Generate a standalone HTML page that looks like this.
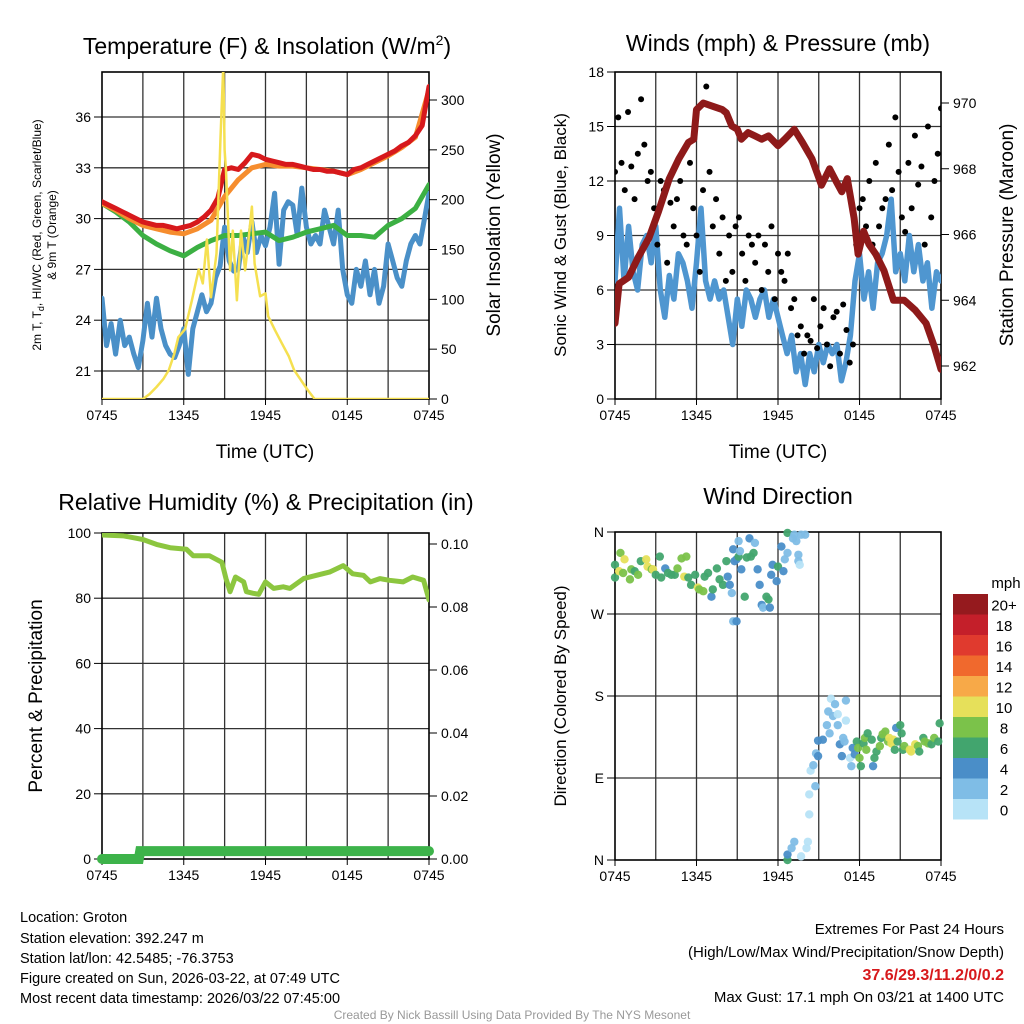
<!DOCTYPE html>
<html><head><meta charset="utf-8"><style>
html,body{margin:0;padding:0;background:#fff;}
svg{display:block;font-family:"Liberation Sans",Arial,sans-serif;}
</style></head><body>
<svg id="s" width="1024" height="1024" viewBox="0 0 1024 1024">
<text x="267" y="54" font-size="23" text-anchor="middle">Temperature (F) &amp; Insolation (W/m<tspan dy="-9" font-size="14">2</tspan><tspan dy="9">)</tspan></text>
<text x="778" y="51" font-size="23" text-anchor="middle">Winds (mph) &amp; Pressure (mb)</text>
<text x="266" y="510" font-size="23" text-anchor="middle">Relative Humidity (%) &amp; Precipitation (in)</text>
<text x="778" y="504" font-size="23" text-anchor="middle">Wind Direction</text>
<text x="265" y="458" font-size="19" text-anchor="middle">Time (UTC)</text>
<text x="778" y="458" font-size="19" text-anchor="middle">Time (UTC)</text>
<text transform="translate(41,235) rotate(-90)" font-size="12" text-anchor="middle">2m T, T<tspan font-size="9" dy="3">d</tspan><tspan dy="-3">, HI/WC (Red, Green, Scarlet/Blue)</tspan></text>
<text transform="translate(56,235) rotate(-90)" font-size="12" text-anchor="middle">&amp; 9m T (Orange)</text>
<text transform="translate(500,235) rotate(-90)" font-size="19" text-anchor="middle">Solar Insolation (Yellow)</text>
<text transform="translate(566,235) rotate(-90)" font-size="17" text-anchor="middle">Sonic Wind &amp; Gust (Blue, Black)</text>
<text transform="translate(1013,235) rotate(-90)" font-size="19" text-anchor="middle">Station Pressure (Maroon)</text>
<text transform="translate(42,696) rotate(-90)" font-size="19" text-anchor="middle">Percent &amp; Precipitation</text>
<text transform="translate(566,696) rotate(-90)" font-size="17" text-anchor="middle">Direction (Colored By Speed)</text>
<g font-size="14.5">
<text x="20" y="922">Location: Groton</text>
<text x="20" y="943">Station elevation: 392.247 m</text>
<text x="20" y="963">Station lat/lon: 42.5485; -76.3753</text>
<text x="20" y="983">Figure created on Sun, 2026-03-22, at 07:49 UTC</text>
<text x="20" y="1003">Most recent data timestamp: 2026/03/22 07:45:00</text>
</g>
<g font-size="15" text-anchor="end">
<text x="1004" y="934">Extremes For Past 24 Hours</text>
<text x="1004" y="957">(High/Low/Max Wind/Precipitation/Snow Depth)</text>
<text x="1004" y="980" fill="#d7191c" font-weight="bold" font-size="16">37.6/29.3/11.2/0/0.2</text>
<text x="1004" y="1002">Max Gust: 17.1 mph On 03/21 at 1400 UTC</text>
</g>
<text x="512" y="1019" font-size="12" fill="#999" text-anchor="middle">Created By Nick Bassill Using Data Provided By The NYS Mesonet</text>
</svg>
<script>
// ---- Temperature panel data ----
const tRed = [31.0,30.8,30.6,30.4,30.2,30.0,29.8,29.7,29.6,29.6,29.5,29.4,29.5,29.6,29.8,30.1,30.5,31.2,32.9,33.0,32.9,33.3,33.8,33.7,33.5,33.4,33.3,33.2,33.2,33.1,33.0,32.9,32.9,32.8,32.8,32.7,32.6,32.9,33.0,33.2,33.4,33.6,33.8,34.0,34.3,34.5,34.9,35.5,37.8];
const tOrange = [30.9,30.5,30.0,29.6,29.4,29.2,29.1,29.4,29.9,31.3,32.3,33.0,33.2,33.1,33.1,33.0,32.9,32.8,32.6,32.9,33.3,33.7,34.2,34.8,37.6];
const tGreen = [30.9,30.4,29.8,29.0,28.5,28.1,27.8,28.3,28.7,29.0,29.0,29.1,29.2,28.7,28.9,29.2,29.4,29.6,29.0,29.0,28.9,29.6,30.0,30.6,32.0];
const tBlue = [25.3,22.5,23.8,22.0,24.0,22.5,23.0,22.0,21.2,22.8,25.0,23.0,25.3,23.5,22.5,22.0,21.8,22.5,23.5,20.8,23.5,24.5,25.5,24.5,25.0,26.5,27.2,29.5,27.5,26.9,27.0,29.0,28.0,29.8,28.0,29.0,28.4,29.5,31.5,27.3,30.5,31.0,30.8,29.0,31.8,29.5,28.5,29.0,28.5,30.5,29.5,28.5,30.5,27.0,25.5,25.0,27.0,26.0,27.5,25.5,27.0,25.0,26.0,28.5,27.5,26.5,26.0,27.5,28.5,29.0,28.5,30.0,31.5];
const solarHours = [0,3.0,3.5,4.0,4.5,4.9,5.3,5.6,6.1,6.6,7.1,7.4,7.7,8.0,8.4,8.7,8.9,9.0,9.1,9.4,9.6,9.9,10.2,10.5,10.7,11.0,11.2,11.6,12.0,12.2,12.7,13.2,13.7,14.1,14.6,15.1,15.6,24];
const solarValues = [0,0,5,12,20,29,45,62,70,99,130,116,160,102,146,262,335,250,229,129,169,99,169,129,153,193,136,103,106,83,69,56,43,29,19,9,0,0];
const tempTicks = [21,24,27,30,33,36];
const solarTicks = [0,50,100,150,200,250,300];
const timeLabels = ["0745","1345","1945","0145","0745"];
// ---- Wind panel data ----
const windSonic = [6.5,10.5,6.5,9.5,7.0,6.0,8.5,9.0,7.5,9.5,6.0,4.5,6.8,5.5,8.0,7.5,6.5,5.0,7.5,10.5,6.5,5.5,6.5,5.5,6.0,4.5,3.0,5.5,4.0,6.0,5.5,4.5,5.5,6.0,4.5,5.5,4.5,3.5,2.5,3.5,1.5,2.5,0.8,2.5,1.5,3.0,2.0,3.0,2.5,3.0,1.0,2.0,3.5,6.5,8.0,5.5,7.0,5.0,7.5,8.0,9.0,11.0,7.0,8.0,6.5,9.0,7.0,8.5,6.5,7.5,5.0,7.0,6.5];
const windGust = [12.5,15.5,13,11.5,15.8,12.8,11,13.5,16.5,14,12,12.5,10.5,8.5,12,11.5,7.5,10.8,9.5,11,12,9,8.5,13,10.5,9,7,11.5,17.2,12.5,9.5,11,8,10,6.5,9,7,9.5,10,8,6.5,9,8.5,7.5,9,6,8.5,7,9.5,5.5,8,7,6.5,8,5,5.5,3.5,4,2.5,3.5,3.2,5.5,2.8,4,5,3,1.8,4.5,4.8,2.5,5.2,3.8,2,3,8.5,10.5,11,9.5,12,8.5,13,9.5,10.5,11,14,11.5,15.5,12.5,10,9.2,13,10.5,14.5,11.8,12.8,8.5,15,10,12,13.5,16];
const presHours = [0,0.3,1.0,1.7,2.5,3.2,4.0,4.7,5.4,5.8,6.0,6.5,7.2,7.9,8.2,8.6,9.0,9.3,9.8,10.3,10.8,11.3,12.0,12.5,13.2,13.8,14.5,15.2,15.8,16.3,16.7,17.1,17.6,17.9,18.3,18.7,19.2,19.8,20.5,21.3,22.1,22.9,23.5,24];
const presValues = [963.3,964.5,964.7,965.3,965.9,966.7,967.7,968.3,968.8,968.9,969.8,970.0,969.9,969.8,969.7,969.3,969.2,968.9,969.1,969.0,968.9,969.0,968.7,968.9,969.2,968.8,968.3,967.5,968.0,967.6,967.3,967.7,966.5,965.4,966.1,965.7,965.4,964.9,964.0,964.0,963.7,963.3,962.6,961.9];
const windTicks = [0,3,6,9,12,15,18];
const presTicks = [962,964,966,968,970];
// ---- RH panel data ----
const rhHours = [0,1.6,3,4,5,6.2,6.7,7.9,8.8,9.1,9.4,9.8,10.4,10.6,11.1,11.5,12,12.6,13.3,13.8,14.8,15.7,16.7,17.7,18.4,19.2,19.7,20.4,21.1,22.1,22.8,23.6,24];
const rhValues = [99.4,99.1,98,96.5,95.5,95,93,93,91,86,82,86.5,85,82,81.5,81.2,85,83,83.5,83,86,87,88,90,87.5,87,85,86,85.5,85,86.5,85.5,79.5];
const precipHours = [0,2.7,2.8,24];
const precipValues = [0,0,0.0025,0.0025];
const rhTicks = [0,20,40,60,80,100];
const precipTicks = [0,0.02,0.04,0.06,0.08,0.10];
// ---- Wind direction data ----
const dirHours = [0.0,0.0,0.4,0.3,0.7,0.6,1.1,1.2,1.45,1.7,1.9,2.3,2.4,2.7,2.8,3.0,3.3,3.4,3.7,3.9,4.15,4.4,4.6,4.9,5.1,5.25,5.4,5.6,5.9,6.1,6.2,6.5,6.6,6.85,7.1,7.2,7.5,7.7,7.95,8.2,8.3,8.45,8.6,8.7,8.8,8.95,9.1,9.1,9.2,9.3,9.55,9.7,9.9,10.0,10.2,10.3,10.5,10.65,10.8,10.9,11.15,11.3,11.4,11.5,11.6,11.9,12.0,12.25,12.4,12.5,12.7,12.7,13.1,13.2,13.35,13.5,13.5,13.6,13.7,14.0,8.7,8.95,
12.7,12.7,13.0,13.2,13.7,14.1,14.2,14.3,14.3,14.75,14.4,14.6,14.8,14.95,14.95,15.3,15.6,15.7,15.8,15.9,16.05,16.2,16.4,16.4,16.55,16.7,16.8,16.9,17.0,17.0,17.3,17.4,17.5,17.65,17.8,17.9,18.0,18.1,18.3,18.4,18.5,18.6,18.9,19.0,19.1,19.25,19.5,19.6,19.7,19.9,20.1,20.2,20.35,20.5,20.6,20.7,20.8,21.0,21.1,21.2,21.3,21.7,21.8,22.1,22.3,22.4,22.7,22.8,23.05,23.3,23.5,23.8,23.9];
const dirDeg = [324,310,337,317,330,315,308,319,317,313,328,330,322,319,319,313,333,310,320,315,313,313,320,331,311,333,310,302,313,299,297,295,311,315,289,297,320,308,302,328,311,302,293,341,328,330,350,333,339,319,289,332,353,333,337,348,319,302,280,277,289,286,277,313,324,306,322,344,317,330,359,337,353,357,350,335,328,324,357,357,262,262,
0,6,13,20,4,13,20,50,72,81,98,104,117,114,131,132,148,163,139,177,158,171,148,160,127,114,134,130,175,153,112,103,123,116,130,123,112,103,128,134,121,139,132,103,112,119,125,134,138,141,130,134,128,132,121,145,130,148,139,121,125,121,119,127,125,119,134,130,128,127,134,130,150];
const dirSpeed = [7,7,9,11,11,9,9,9,7,9,7,11,11,9,11,7,7,7,5,7,7,7,9,9,11,9,7,7,7,11,9,9,7,7,5,7,7,7,7,7,5,5,3,5,5,5,3,7,3,5,7,7,5,7,7,3,5,5,5,3,7,7,5,5,5,5,7,5,5,3,7,3,3,3,3,3,3,1,3,3,3,5,
7,5,3,3,1,1,1,1,1,3,1,3,3,5,5,5,3,3,3,1,3,3,3,1,5,5,3,3,3,1,1,3,5,5,7,9,9,7,7,9,9,7,7,5,7,7,9,7,9,9,9,11,11,11,7,5,7,7,7,7,9,11,11,11,9,7,7,9,9,7,9,7,7];
const dirLabels = ["N","E","S","W","N"];
const speedBins = ["0","2","4","6","8","10","12","14","16","18","20+"];
const speedColors = ["#b7e3f7","#7fbde6","#4a8ec8","#42a56e","#7bc24a","#e6e05a","#f7a948","#f0692d","#e03a2e","#c41f2a","#951a1e"];

const NS="http://www.w3.org/2000/svg";
const svg=document.getElementById('s');
function mk(tag,attrs,parent){const e=document.createElementNS(NS,tag);for(const k in attrs)e.setAttribute(k,attrs[k]);(parent||svg).appendChild(e);return e;}
function panel(x0,x1,y0,y1){return {x:h=>x0+h/24*(x1-x0),x0,x1,y0,y1};}
function lin(v0,v1,p0,p1){return v=>p0+(v-v0)/(v1-v0)*(p1-p0);}
function pathD(xs,ys){return xs.map((x,i)=>(i?'L':'M')+x.toFixed(1)+','+ys[i].toFixed(1)).join('');}
function idxHours(n){const a=[];for(let i=0;i<n;i++)a.push(i*24/(n-1));return a;}
function clip(id,P){const d=mk('defs',{});const c=mk('clipPath',{id:id},d);mk('rect',{x:P.x0,y:P.y0,width:P.x1-P.x0,height:P.y1-P.y0},c);}
function frame(P,name,yTicks,yMap,yLab,labFmt){
  const g=mk('g',{});
  
  
  for(let h=3;h<24;h+=3){mk('line',{x1:P.x(h),x2:P.x(h),y1:P.y0,y2:P.y1,stroke:'#333','stroke-width':1.3},g);}
  yTicks.forEach((v,i)=>{const y=yMap(v);
    if(y>P.y0+1&&y<P.y1-1)mk('line',{x1:P.x0,x2:P.x1,y1:y,y2:y,stroke:'#333','stroke-width':1.3},g);
    mk('line',{x1:P.x0-8,x2:P.x0,y1:y,y2:y,stroke:'#000'},g);
    const t=mk('text',{x:P.x0-11,y:y+5,'font-size':14,'text-anchor':'end'},g);t.textContent=yLab?yLab[i]:labFmt(v);
    
    
  });
  timeLabels.forEach((s,i)=>{const x=P.x(i*6);mk('line',{x1:x,x2:x,y1:P.y1,y2:P.y1+6,stroke:'#000'},g);
    const t=mk('text',{x:x,y:P.y1+21,'font-size':14,'text-anchor':'middle'},g);t.textContent=s;
    
    });
  mk('rect',{x:P.x0,y:P.y0,width:P.x1-P.x0,height:P.y1-P.y0,fill:'none',stroke:'#000','stroke-width':1.6},g);
  return g;
}
function rightTicks(P,ticks,map,fmt,name){
  const g=mk('g',{});
  
  
  ticks.forEach(v=>{const y=map(v);mk('line',{x1:P.x1,x2:P.x1+8,y1:y,y2:y,stroke:'#000'},g);
    const t=mk('text',{x:P.x1+12,y:y+5,'font-size':14},g);t.textContent=fmt(v);});
}
function line(P,hours,vals,map,color,w,name,cid){const p=mk('path',{d:pathD(hours.map(P.x),vals.map(map)),fill:'none',stroke:color,'stroke-width':w,'stroke-linejoin':'round','stroke-linecap':'round','clip-path':'url(#'+cid+')'});
  
  return p;}

// ===== Temperature panel =====
const P1=panel(102,429,72,399);
const yT=lin(21,36,371,117), yS=lin(0,300,399,100);
clip('c1',P1);
frame(P1,'temperature',tempTicks,yT,null,v=>String(v));
rightTicks(P1,solarTicks,yS,v=>String(v),'solar-axis');
line(P1,idxHours(tBlue.length),tBlue,yT,'#4a90c8',5,'windchill-line','c1');
line(P1,idxHours(tGreen.length),tGreen,yT,'#3cb043',5,'dewpoint-line','c1');
line(P1,idxHours(tOrange.length),tOrange,yT,'#f68d2e',5,'temp-9m-line','c1');
line(P1,idxHours(tRed.length),tRed,yT,'#d7191c',5,'temp-2m-line','c1');
line(P1,solarHours,solarValues,yS,'#f5e050',2.5,'solar-line','c1');

// ===== Wind panel =====
const P2=panel(615,941,72,399);
const yW=lin(0,18,399,72), yP=lin(962,970,366,103);
clip('c2',P2);
frame(P2,'wind',windTicks,yW,null,v=>String(v));
rightTicks(P2,presTicks,yP,v=>String(v),'pressure-axis');
line(P2,idxHours(windSonic.length),windSonic,yW,'#4f96d0',5.5,'sonic-wind-line','c2');
const gh=idxHours(windGust.length);
windGust.forEach((v,i)=>{const c=mk('circle',{cx:P2.x(gh[i]),cy:yW(v),r:3,fill:'#000','clip-path':'url(#c2)'});
  
  });
line(P2,presHours,presValues,yP,'#8e1a1a',7,'pressure-line','c2');

// ===== RH panel =====
const P3=panel(102,429,533,859);
const yR=lin(0,100,859,533), yPr=lin(0,0.1,859,544);
clip('c3',P3);
frame(P3,'humidity',rhTicks,yR,null,v=>String(v));
rightTicks(P3,precipTicks,yPr,v=>v.toFixed(2),'precip-axis');
line(P3,rhHours,rhValues,yR,'#8cc63f',5,'rh-line','c3');
const pp=mk('path',{d:pathD(precipHours.map(P3.x),precipValues.map(yPr)),fill:'none',stroke:'#3db34a','stroke-width':10,'stroke-linecap':'round'});



// ===== Wind direction panel =====
const P4=panel(615,941,532,860);
const yD=lin(0,360,860,532);
frame(P4,'direction',[0,90,180,270,360],yD,dirLabels,null);
dirHours.forEach((h,i)=>{const bin=Math.min(10,Math.floor(dirSpeed[i]/2));
  const c=mk('circle',{cx:P4.x(h),cy:yD(dirDeg[i]),r:4.2,fill:speedColors[bin],'fill-opacity':0.95});
  
  });
const cb=mk('g',{});


const cbTop=594,cbH=20.5;
speedBins.forEach((s,i)=>{const y=cbTop+(10-i)*cbH;
  mk('rect',{x:953,y:y,width:35,height:cbH,fill:speedColors[i]},cb);
  const t=mk('text',{x:1004,y:y+cbH/2+6,'font-size':15,'text-anchor':'middle'},cb);t.textContent=s;});
const mph=mk('text',{x:1006,y:588,'font-size':15,'text-anchor':'middle'},cb);mph.textContent='mph';
</script>
</body></html>
